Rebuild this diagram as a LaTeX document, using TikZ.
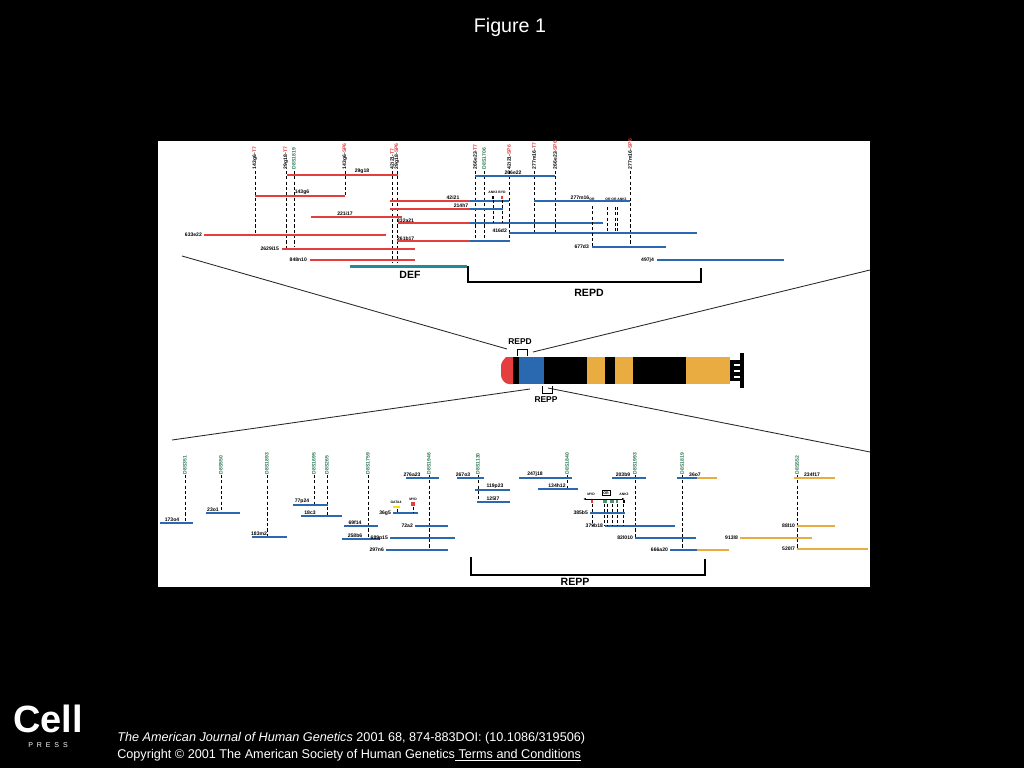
\documentclass[tikz,border=0pt]{standalone}
\usepackage{fontspec}
\setmainfont{Liberation Sans}
\usetikzlibrary{arrows.meta}

% colores de la figura
\definecolor{rojo}{RGB}{228,62,62}
\definecolor{azul}{RGB}{42,104,176}
\definecolor{turq}{RGB}{32,140,150}
\definecolor{naranja}{RGB}{232,172,64}
\definecolor{verde}{RGB}{40,120,80}

% etiqueta vertical de marcador: #1 x, #2 y inferior, #3 texto
\newcommand{\marca}[5]{%
  \draw[corte] (#1,171) -- (#1,#2);
  \node[marcalab, anchor = west] (m-#3) at (#1,170) {#3\textcolor{#5}{#4}};
}
\newcommand{\sts}[4]{%
  \draw[corte] (#1,#2) -- (#1,#3);
  \node[marcalab, anchor = west, text = verde] (s-#4) at (#1,#2) {#4};
}

\begin{document}
\begin{tikzpicture}[
	x = 0.025cm, y = -0.025cm,
	line cap = butt,
	% estilos
	corte/.style = {dash pattern = on 2.2pt off 1.6pt, line width = 0.7pt},
	clonR/.style = {draw = rojo, line width = 0.9pt},
	clonA/.style = {draw = azul, line width = 0.9pt},
	clonN/.style = {draw = naranja, line width = 0.9pt},
	lab/.style = {font = \fontsize{3.6}{4}\selectfont\bfseries, inner sep = 0.6pt},
	marcalab/.style = {lab, rotate = 90, inner sep = 0.5pt},
	region/.style = {font = \fontsize{7.5}{8}\selectfont\bfseries},
	zoomline/.style = {draw = black!85, line width = 0.6pt},
]

	% fondo
	\fill[black] (0,0) rectangle (1024,768);
	\useasboundingbox (0,0) rectangle (1024,768);
	\node[text = white, font = \fontsize{14}{16}\selectfont] (titulo) at (510,27) {Figure 1};
	\fill[white] (158,141) rectangle (870,587);

	% ---------- parte superior: REPD ----------
	\marca{255}{233}{143g6-}{T7}{rojo}
	\marca{286}{249}{29g18-}{T7}{rojo}
	\draw[corte] (294,171) -- (294,247);
	\node[marcalab, anchor = west, text = verde] (m-d1819) at (294,170) {D8S1819};
	\marca{345}{196}{143g6-}{SP6}{rojo}
	\marca{392}{262}{42i21-}{T7}{rojo}
	\marca{397}{262}{29g18-}{SP6}{rojo}
	\marca{475}{242}{266e22-}{T7}{rojo}
	\draw[corte] (484,171) -- (484,242);
	\node[marcalab, anchor = west, text = verde] (m-d1706) at (484,170) {D8S1706};
	\marca{509}{242}{42i21-}{SP6}{rojo}
	\marca{534}{233}{277m16-}{T7}{rojo}
	\marca{555}{233}{266e22-}{SP6}{rojo}
	\marca{630}{247}{277m16-}{SP6}{rojo}

	% clones rojos
	\draw[clonR] (287,175) -- (398,175);
	\node[lab, anchor = south] (c1) at (362,175) {29g18};
	\draw[clonR] (255,196) -- (345,196);
	\node[lab, anchor = south] (c2) at (302,196) {143g6};
	\draw[clonR] (390,201) -- (470,201);
	\draw[clonA] (470,201) -- (509,201);
	\node[lab, anchor = south] (c3) at (453,201) {42i21};
	\draw[clonR] (390,209) -- (470,209);
	\draw[clonA] (470,209) -- (503,209);
	\node[lab, anchor = south] (c4) at (461,209) {214h7};
	\draw[clonR] (311,217) -- (402,217);
	\node[lab, anchor = south] (c5) at (345,217) {221i17};
	\draw[clonR] (398,223) -- (470,223);
	\draw[clonA] (470,223) -- (603,223);
	\node[lab, anchor = west] (c6) at (396,221) {332a21};
	\draw[clonR] (204,235) -- (386,235);
	\node[lab, anchor = east] (c7) at (203,235) {633e22};
	\draw[clonR] (397,241) -- (470,241);
	\draw[clonA] (470,241) -- (510,241);
	\node[lab, anchor = west] (c8) at (396,239) {261b17};
	\draw[clonR] (282,249) -- (415,249);
	\node[lab, anchor = east] (c9) at (280,249) {2629i15};
	\draw[clonR] (310,260) -- (415,260);
	\node[lab, anchor = east] (c10) at (308,260) {848n10};

	% clones azules
	\draw[clonA] (475,176) -- (555,176);
	\node[lab, anchor = south] (c11) at (513,176) {266e22};
	\draw[clonA] (534,201) -- (630,201);
	\node[lab, anchor = south] (c12) at (580,201) {277m16};
	\draw[clonA] (509,233) -- (697,233);
	\node[lab, anchor = east] (c13) at (508,231) {416d2};
	\draw[clonA] (592,247) -- (666,247);
	\node[lab, anchor = east] (c14) at (590,247) {677d3};
	\draw[clonA] (657,260) -- (784,260);
	\node[lab, anchor = east] (c15) at (655,260) {497j4};

	% genes en REPD
	\node[lab, font = \fontsize{2.4}{3}\selectfont\bfseries] (g1) at (493,192) {ANK3};
	\node[lab, font = \fontsize{2.4}{3}\selectfont\bfseries] (g2) at (502,192) {BYD};
	\fill (492,196) rectangle (494,199);
	\fill[rojo] (501,196) rectangle (503,199);
	\draw[corte] (493,200) -- (493,223);
	\draw[corte] (502,200) -- (502,223);
	\node[lab, font = \fontsize{2.4}{3}\selectfont\bfseries] (g3) at (592,199) {OR};
	\node[lab, font = \fontsize{2.4}{3}\selectfont\bfseries] (g4) at (616,199) {OR OR ANK3};
	\draw[corte] (592,206) -- (592,247);
	\foreach \gx in {607,615,617}
		\draw[corte] (\gx,207) -- (\gx,233);
	\fill[turq] (350,265) rectangle (467,268);
	\node[region] (def) at (410,275) {DEF};
	\draw[line width = 0.8pt] (468,266) -- (468,282) -- (701,282) -- (701,268);
	\node[region] (repd) at (589,293) {REPD};

	% ---------- cromosoma ----------
	\draw[zoomline] (182,256) -- (507,349);
	\draw[zoomline] (870,270) -- (533,352);
	\draw[zoomline] (172,440) -- (530,389);
	\draw[zoomline] (548,388) -- (870,452);
	\fill[black] (513,357) rectangle (730,384);
	\fill[black] (728,360) rectangle (742,381);
	\fill[black] (740,353) rectangle (744,388);
	\foreach \sy in {364,370,376}
		\fill[white] (734,\sy) rectangle (740,\sy+2);
	\fill[rojo] (513,357) -- (506,357) [rounded corners = 2pt] -- (501,363) -- (501,378) -- (506,384) [sharp corners] -- (513,384) -- cycle;
	\fill[azul] (519,357) rectangle (544,384);
	\fill[naranja] (587,357) rectangle (605,384);
	\fill[naranja] (615,357) rectangle (633,384);
	\fill[naranja] (686,357) rectangle (730,384);
	\draw[line width = 0.7pt] (517,356) -- (517,349) -- (527,349) -- (527,356);
	\node[lab, font = \fontsize{6}{6}\selectfont\bfseries] (repd2) at (520,342) {REPD};
	\draw[line width = 0.7pt] (542,386) -- (542,393) -- (552,393) -- (552,386);
	\node[lab, font = \fontsize{6}{6}\selectfont\bfseries] (repp2) at (546,400) {REPP};

	% ---------- parte inferior: REPP ----------
	\sts{185}{475}{523}{D8S351}
	\sts{221}{475}{513}{D8S550}
	\sts{267}{475}{537}{D8S1893}
	\sts{314}{475}{505}{D8S1695}
	\sts{327}{475}{516}{D8S265}
	\sts{368}{475}{539}{D8S1759}
	\sts{429}{475}{550}{D8S1946}
	\sts{478}{475}{502}{D8S1130}
	\sts{567}{475}{489}{D8S1840}
	\sts{635}{475}{538}{D8S1993}
	\sts{682}{475}{550}{D8S1819}
	\sts{797}{475}{549}{D8S552}

	\draw[clonA] (160,523) -- (193,523);
	\node[lab, anchor = south] (b1) at (172,523) {173o4};
	\draw[clonA] (206,513) -- (240,513);
	\node[lab, anchor = south] (b2) at (213,513) {23o1};
	\draw[clonA] (252,537) -- (287,537);
	\node[lab, anchor = south] (b3) at (259,537) {183m2};
	\draw[clonA] (293,505) -- (328,505);
	\node[lab, anchor = south] (b4) at (302,505) {77p24};
	\draw[clonA] (301,516) -- (342,516);
	\node[lab, anchor = south] (b5) at (310,516) {18c3};
	\draw[clonA] (344,526) -- (378,526);
	\node[lab, anchor = south] (b6) at (355,526) {69f14};
	\draw[clonA] (342,539) -- (380,539);
	\node[lab, anchor = south] (b7) at (355,539) {258b6};
	\draw[clonA] (406,478) -- (439,478);
	\node[lab, anchor = south] (b8) at (412,478) {276a23};
	\draw[clonA] (393,513) -- (418,513);
	\node[lab, anchor = east] (b9) at (392,513) {36g5};
	\draw[clonA] (415,526) -- (448,526);
	\node[lab, anchor = east] (b10) at (414,526) {72a2};
	\draw[clonA] (390,538) -- (455,538);
	\node[lab, anchor = east] (b11) at (389,538) {689p15};
	\draw[clonA] (386,550) -- (448,550);
	\node[lab, anchor = east] (b12) at (385,550) {297n6};
	\draw[clonA] (457,478) -- (484,478);
	\node[lab, anchor = south] (b13) at (463,478) {267o3};
	\draw[clonA] (475,490) -- (510,490);
	\node[lab, anchor = south] (b14) at (495,490) {119p23};
	\draw[clonA] (477,502) -- (510,502);
	\node[lab, anchor = south] (b15) at (493,502) {125l7};
	\draw[clonA] (519,478) -- (572,478);
	\node[lab, anchor = south] (b16) at (535,478) {247j18};
	\draw[clonA] (538,489) -- (578,489);
	\node[lab, anchor = south] (b17) at (557,489) {134h12};
	\draw[clonA] (612,478) -- (646,478);
	\node[lab, anchor = south] (b18) at (623,478) {203b9};
	\draw[clonA] (590,513) -- (625,513);
	\node[lab, anchor = east] (b19) at (589,513) {385b5};
	\draw[clonA] (605,526) -- (675,526);
	\node[lab, anchor = east] (b20) at (604,526) {379b18};
	\draw[clonA] (635,538) -- (696,538);
	\node[lab, anchor = east] (b21) at (634,538) {82l010};
	\draw[clonA] (677,478) -- (697,478);
	\draw[clonN] (697,478) -- (717,478);
	\node[lab, anchor = south] (b22) at (695,478) {36o7};
	\draw[clonA] (670,550) -- (697,550);
	\draw[clonN] (697,550) -- (729,550);
	\node[lab, anchor = east] (b23) at (669,550) {666a20};
	\draw[clonN] (794,478) -- (835,478);
	\node[lab, anchor = south] (b24) at (812,478) {234f17};
	\draw[clonN] (797,526) -- (835,526);
	\node[lab, anchor = east] (b25) at (796,526) {88l10};
	\draw[clonN] (740,538) -- (812,538);
	\node[lab, anchor = east] (b26) at (739,538) {913l8};
	\draw[clonN] (797,549) -- (868,549);
	\node[lab, anchor = east] (b27) at (796,549) {520l7};

	% genes en REPP
	\node[lab, font = \fontsize{2.4}{3}\selectfont\bfseries] (g5) at (396,502) {GATA4};
	\fill[yellow!80!orange] (393,506) rectangle (400,508);
	\node[lab, font = \fontsize{2.4}{3}\selectfont\bfseries] (g6) at (413,499) {MYD};
	\fill[rojo] (411,502) rectangle (415,506);
	\draw[corte] (397,509) -- (397,513);
	\draw[corte] (413,507) -- (413,513);
	\draw[{Latex[length = 2pt]}-{Latex[length = 2pt]}, line width = 0.5pt] (583,499) -- (625,499);
	\node[lab, font = \fontsize{2.4}{3}\selectfont\bfseries] (g7) at (591,494) {MYD};
	\node[lab, draw, font = \fontsize{2.6}{3}\selectfont\bfseries, inner sep = 0.8pt] (g8) at (606,493) {OR};
	\node[lab, font = \fontsize{2.4}{3}\selectfont\bfseries] (g9) at (624,494) {ANK3};
	\fill[rojo] (591,500) rectangle (593,503);
	\foreach \gx in {604,606,611,613,617}
		\fill[verde!80] (\gx-1,500) rectangle (\gx+1,503);
	\fill (623,500) rectangle (625,503);
	\foreach \gx in {592,604,607,612,617,623}
		\draw[corte] (\gx,504) -- (\gx,526);
	\draw[line width = 0.8pt] (471,557) -- (471,575) -- (705,575) -- (705,559);
	\node[region] (repp) at (575,582) {REPP};

	% ---------- pie ----------
	\node[text = white, font = \fontsize{27}{27}\selectfont\bfseries, inner sep = 0pt] (cell) at (48,719) {Cell};
	\node[text = white, font = \fontsize{5}{5}\selectfont] (press) at (48,745) {P\ \ R\ \ E\ \ S\ \ S};
	\node[text = white, anchor = west, font = \fontsize{9}{10}\selectfont, inner sep = 0pt] (ref) at (117,738)
		{\textit{The American Journal of Human Genetics} 2001 68, 874-883DOI: (10.1086/319506)};
	\node[text = white, anchor = west, font = \fontsize{9}{10}\selectfont, inner sep = 0pt] (copy) at (117,755)
		{Copyright © 2001 The American Society of Human Genetics\underline{ Terms and Conditions}};
\end{tikzpicture}
\end{document}
